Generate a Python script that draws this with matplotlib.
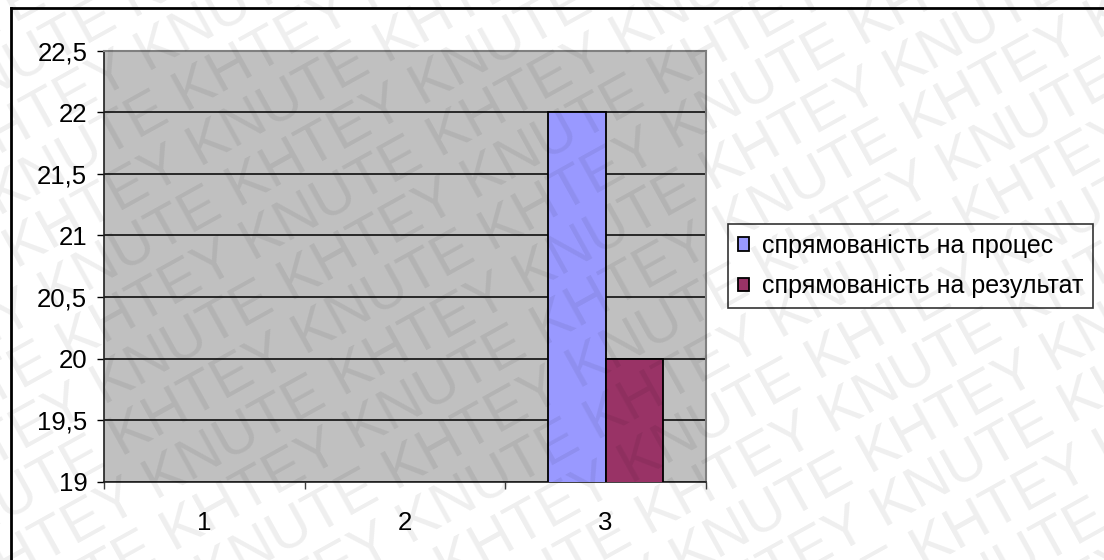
import numpy as np
import matplotlib
matplotlib.use("Agg")
import matplotlib.pyplot as plt
from matplotlib.lines import Line2D

plt.rcParams['font.family'] = ['Liberation Sans', 'DejaVu Sans']

categories = ['1', '2', '3']
process = [0, 0, 22]
result = [0, 0, 20]
series_names = ['спрямованість на процес', 'спрямованість на результат']
y_ticks = [19, 19.5, 20, 20.5, 21, 21.5, 22, 22.5]
y_labels = ['19', '19,5', '20', '20,5', '21', '21,5', '22', '22,5']

W, H = 1104, 560
fig = plt.figure(figsize=(W / 100, H / 100), dpi=100)
fig.patch.set_facecolor('white')

ax = fig.add_axes([104 / W, 1 - 481.7 / H, 602 / W, 431 / H])
ax.set_facecolor('#C0C0C0')

x = np.arange(len(categories))
w = 1 / 3.5
ax.bar(x - w / 2, process, w, color='#9999FF', edgecolor='black', linewidth=1.3,
       label=series_names[0], zorder=3)
ax.bar(x + w / 2, result, w, color='#993366', edgecolor='black', linewidth=1.3,
       label=series_names[1], zorder=3)

ax.set_xlim(-0.5, len(categories) - 0.5)
ax.set_ylim(19, 22.5)
ax.set_yticks(y_ticks)
ax.set_yticklabels(y_labels)
ax.yaxis.grid(True, color='black', linewidth=1.1, zorder=1)
ax.set_axisbelow(True)

ax.set_xticks(x)
ax.set_xticklabels(categories)
ax.set_xticks(np.arange(-0.5, len(categories)), minor=True)
ax.tick_params(axis='x', which='major', length=0, pad=21, labelsize=18.5)
ax.tick_params(axis='x', which='minor', length=5, width=1, direction='out', color='#404040')
ax.tick_params(axis='y', length=5, width=1, direction='out', pad=7, labelsize=18.5)

for s in ['top', 'right']:
    ax.spines[s].set_color('#808080')
    ax.spines[s].set_linewidth(1.5)
for s in ['left', 'bottom']:
    ax.spines[s].set_color('#202020')
    ax.spines[s].set_linewidth(1.2)

leg = fig.legend(loc='upper left', bbox_to_anchor=(728 / W, 1 - 224 / H),
                 bbox_transform=fig.transFigure, borderaxespad=0,
                 fontsize=18, frameon=True, fancybox=False, edgecolor='black',
                 handlelength=0.45, handleheight=0.45, handletextpad=0.5,
                 borderpad=0.4, labelspacing=0.65)
leg.get_frame().set_linewidth(1.2)
for p in leg.get_patches():
    p.set_linewidth(1.3)

# outer chart frame
fig.add_artist(Line2D([11 / W, 11 / W], [0, 1 - 8 / H], color='black', linewidth=2,
                      transform=fig.transFigure))
fig.add_artist(Line2D([11 / W, 1], [1 - 8 / H, 1 - 8 / H], color='black', linewidth=2,
                      transform=fig.transFigure))

# watermark
deg = 29
ang = np.deg2rad(deg)
u = np.array([np.cos(ang), np.sin(ang)])
n = np.array([np.sin(ang), -np.cos(ang)])
c = np.array([W / 2, H / 2])
row = 'KNUTE KHTEY ' * 8
for k in range(-12, 13):
    p = c + k * 54 * n - 1300 * u + (k % 2) * 200 * u
    fig.text(p[0] / W, p[1] / H, row, fontsize=42, color='black', alpha=0.065,
             rotation=deg, rotation_mode='anchor', ha='left', va='baseline',
             zorder=10)

fig.savefig('out.png', dpi=100)
